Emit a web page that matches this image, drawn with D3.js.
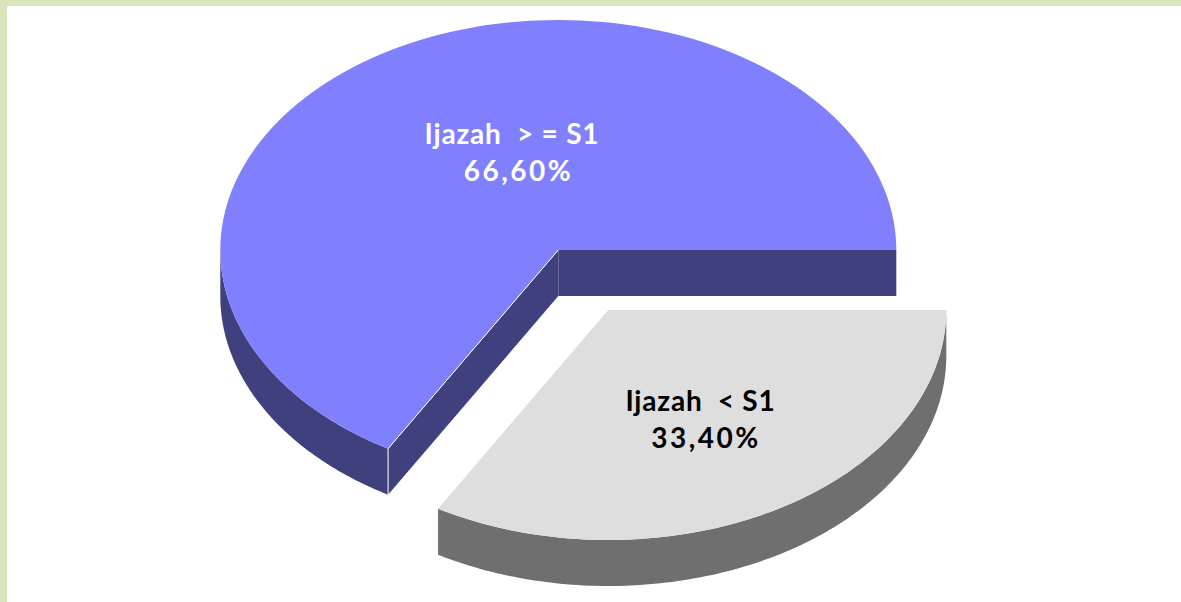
<!DOCTYPE html>
<html>
<head>
<meta charset="utf-8">
<script src="https://cdnjs.cloudflare.com/ajax/libs/d3/7.8.5/d3.min.js"></script>
<style>
html, body { margin: 0; padding: 0; background: #fff; }
svg { display: block; }
text { font-family: Lato, "Open Sans", sans-serif; font-weight: 700; font-size: 28px; white-space: pre; }
</style>
</head>
<body>
<div id="chart"></div>
<script>
// Chart data
const categories = ['Ijazah  < S1', 'Ijazah  > = S1'];
const shares = [33.4, 66.6];
const topColors = ['#dedede', '#8080ff'];
const sideColors = ['#6f6f6f', '#40407f'];
const labelColors = ['#000000', '#ffffff'];

const width = 1181;
const height = 602;
const rx = 338;
const ry = 230;
const depth = 46;

// pie centre of each slice, the small one is pulled out
const centers = [{ x: 608.3, y: 310 }, { x: 558.3, y: 250 }];
const labelPos = [
    { x: 700.5, y1: 411, x2: 706, y2: 448, spacing1: 0.8, spacing2: 2.5 },
    { x: 512, y1: 143.5, x2: 518.5, y2: 181, spacing1: 0.8, spacing2: 2.5 }
];

const percent = d3.formatLocale({ decimal: ',', thousands: '.', grouping: [3], currency: ['', ''] }).format('.2%');

const svg = d3.select('#chart')
    .append('svg')
    .attr('width', width)
    .attr('height', height);

// Page frame
svg.append('rect').attr('width', width).attr('height', 6).attr('fill', '#d8e4bc');
svg.append('rect').attr('width', 7).attr('height', height).attr('fill', '#d8e4bc');

const pie = d3.pie()
    .sort(null)
    .startAngle(Math.PI / 2)
    .endAngle(Math.PI / 2 + 2 * Math.PI);
const slices = pie(shares);

const x = d3.scaleLinear().domain([-1, 1]).range([-rx, rx]);
const y = d3.scaleLinear().domain([-1, 1]).range([-ry, ry]);

const arc = d3.arc().innerRadius(0).outerRadius(rx);

// side wall along the rim, a is the d3 pie angle (0 at 12 o'clock, clockwise)
function rimWall(center, a0, a1) {
    const steps = d3.range(0, 121).map(i => a0 + (a1 - a0) * i / 120);
    return d3.area()
        .x(a => center.x + x(Math.sin(a)))
        .y0(a => center.y + y(-Math.cos(a)))
        .y1(a => center.y + y(-Math.cos(a)) + depth)(steps);
}

// flat wall from the pie centre out to the rim at angle a
function cutWall(center, a) {
    const px = center.x + x(Math.sin(a));
    const py = center.y + y(-Math.cos(a));
    return d3.area()
        .x(d => d[0])
        .y0(d => d[1])
        .y1(d => d[1] + depth)([[center.x, center.y], [px, py]]);
}

// Small slice
const g0 = svg.append('g');
g0.append('path')
    .attr('d', rimWall(centers[0], slices[0].startAngle, slices[0].endAngle))
    .attr('fill', sideColors[0]);
g0.append('path')
    .attr('d', arc(slices[0]))
    .attr('transform', `translate(${centers[0].x},${centers[0].y}) scale(1,${ry / rx})`)
    .attr('fill', topColors[0]);

// Large slice
const g1 = svg.append('g');
const cutA = slices[1].startAngle;
const cutX = centers[1].x + x(Math.sin(cutA));
const cutY = centers[1].y + y(-Math.cos(cutA));

g1.append('path')
    .attr('d', cutWall(centers[1], Math.PI / 2))
    .attr('fill', sideColors[1]);
g1.append('path')
    .attr('d', cutWall(centers[1], cutA))
    .attr('fill', sideColors[1]);
g1.append('path')
    .attr('d', rimWall(centers[1], cutA, 1.5 * Math.PI))
    .attr('fill', sideColors[1]);
g1.append('path')
    .attr('d', arc(slices[1]))
    .attr('transform', `translate(${centers[1].x},${centers[1].y}) scale(1,${ry / rx})`)
    .attr('fill', topColors[1]);

// thin white edges on the cut
g1.append('path')
    .attr('d', `M${centers[1].x},${centers[1].y}L${cutX},${cutY}L${cutX},${cutY + depth}`)
    .attr('fill', 'none')
    .attr('stroke', '#ffffff')
    .attr('stroke-width', 1);

// Labels
categories.forEach((name, i) => {
    const p = labelPos[i];
    svg.append('text')
        .attr('x', p.x)
        .attr('y', p.y1)
        .attr('text-anchor', 'middle')
        .attr('letter-spacing', p.spacing1)
        .attr('fill', labelColors[i])
        .text(name);
    svg.append('text')
        .attr('x', p.x2)
        .attr('y', p.y2)
        .attr('text-anchor', 'middle')
        .attr('letter-spacing', p.spacing2)
        .attr('fill', labelColors[i])
        .text(percent(shares[i] / 100));
});
</script>
</body>
</html>
